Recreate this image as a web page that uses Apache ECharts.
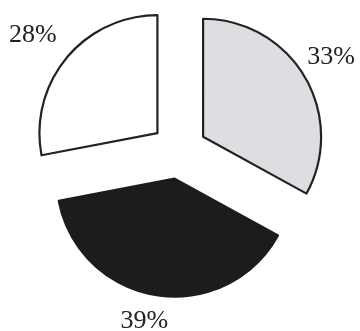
<!DOCTYPE html>
<html>
<head>
<meta charset="utf-8">
<script src="https://cdn.jsdelivr.net/npm/echarts@6/dist/echarts.min.js"></script>
<style>
  html, body { margin: 0; padding: 0; background: #fff; }
  #chart { width: 360px; height: 331px; }
</style>
</head>
<body>
<div id="chart"></div>
<script>
// slice values, clockwise from 12 o'clock
const categories = ['A', 'B', 'C'];
const shares = [33, 39, 28];
const fills = ['#dedee2', '#1c1c1c', '#ffffff'];
const borders = ['#222222', '#1c1c1c', '#222222'];

// label placement per slice (labelLine lengths, hidden line)
const lineLen = [39, 26, 35];
const lineLen2 = [-36, -21, -22];

const chart = echarts.init(document.getElementById('chart'));

const data = categories.map((name, i) => ({
  name: name,
  value: shares[i],
  selected: true,
  itemStyle: { color: fills[i], borderColor: borders[i], borderWidth: 2.2 },
  labelLine: { show: false, length: lineLen[i], length2: lineLen2[i] }
}));

chart.setOption({
  animation: false,
  backgroundColor: '#ffffff',
  series: [{
    type: 'pie',
    center: [179, 151],
    radius: [0, 118],
    startAngle: 90,
    clockwise: true,
    selectedMode: 'multiple',
    selectedOffset: 28,
    avoidLabelOverlap: false,
    silent: true,
    emphasis: { disabled: true },
    label: {
      show: true,
      position: 'outside',
      alignTo: 'none',
      distanceToLabelLine: 5,
      formatter: p => p.value + '%',
      fontFamily: 'Liberation Serif',
      fontSize: 26,
      color: '#222'
    },
    data: data
  }]
});
</script>
</body>
</html>
